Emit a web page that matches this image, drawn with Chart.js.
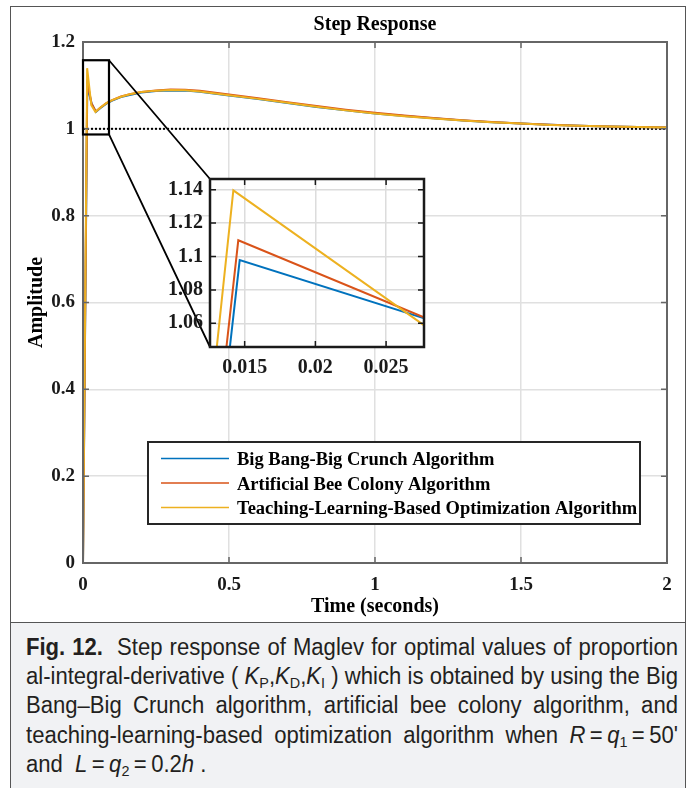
<!DOCTYPE html>
<html>
<head>
<meta charset="utf-8">
<script src="https://cdn.jsdelivr.net/npm/chart.js@4.4.1/dist/chart.umd.min.js"></script>
<style>
    html, body { margin: 0; padding: 0; background: #fff; }
    body { width: 693px; height: 788px; position: relative; overflow: hidden; }
    #frame { position: absolute; left: 10px; top: 6px; width: 676px; height: 617px; border: 1.5px solid #555; border-bottom: none; box-sizing: border-box; }
    #main { position: absolute; left: 0; top: 0; }
    #inset { position: absolute; left: 150px; top: 160px; }
    #caption {
        position: absolute; left: 10px; top: 622px; width: 676px; height: 166px;
        background: #f1f2f4; border: 1.5px solid #555; border-bottom: none; box-sizing: border-box;
        padding: 10px 0 0 15px;
        font-family: 'Liberation Sans', Arial, sans-serif;
        font-size: 23px; line-height: 29.2px; color: #231f20;
    }
    #caption .ln { text-align: justify; text-align-last: justify; transform-origin: 0 0; }
    #caption .ln.last { text-align-last: left; }
    #caption sub { font-size: 15px; line-height: 0; vertical-align: -4px; font-style: normal; }
</style>
</head>
<body>
<div id="frame"></div>
<canvas id="main" width="693" height="622"></canvas>
<canvas id="inset" width="276" height="225"></canvas>
<div id="caption">
    <div class="ln"><b>Fig. 12.</b>&nbsp; Step response of Maglev for optimal values of proportion</div>
    <div class="ln">al-integral-derivative ( <i>K<sub>P</sub></i>,<i>K<sub>D</sub></i>,<i>K<sub>I</sub></i> ) which is obtained by using the Big</div>
    <div class="ln">Bang–Big Crunch algorithm, artificial bee colony algorithm, and</div>
    <div class="ln">teaching-learning-based optimization algorithm when <i>R</i>&thinsp;=&thinsp;<i>q</i><sub>1</sub>&thinsp;=&thinsp;50'</div>
    <div class="ln last">and &nbsp;<i>L</i>&thinsp;=&thinsp;<i>q</i><sub>2</sub>&thinsp;=&thinsp;0.2<i>h</i> .</div>
</div>
<script>
// series
const seriesNames = ['Big Bang-Big Crunch Algorithm', 'Artificial Bee Colony Algorithm', 'Teaching-Learning-Based Optimization Algorithm'];
const seriesColors = ['#0072BD', '#D95319', '#EDB120'];

// first samples (rise, overshoot peak, dip) differ per algorithm
const bbbcEarlyTime = [0, 0.01465, 0.0293, 0.044];
const bbbcEarlyAmp  = [0, 1.0978, 1.0587, 1.039];
const abcEarlyTime  = [0, 0.01455, 0.0291, 0.0437];
const abcEarlyAmp   = [0, 1.1097, 1.0585, 1.040];
const tlboEarlyTime = [0, 0.0142, 0.0284, 0.0426];
const tlboEarlyAmp  = [0, 1.1396, 1.0545, 1.039];

// slow part of the response
const tailTime = [0.06, 0.08, 0.1, 0.13, 0.16, 0.2, 0.25, 0.3, 0.35, 0.4, 0.5, 0.6, 0.7, 0.8, 0.9, 1.0, 1.1, 1.2, 1.3, 1.4, 1.5, 1.6, 1.7, 1.8, 1.9, 2.0];
const bbbcTail = [1.048, 1.058, 1.065, 1.073, 1.078, 1.0835, 1.087, 1.0885, 1.088, 1.0855, 1.077, 1.0685, 1.0595, 1.0505, 1.0425, 1.0355, 1.0295, 1.0242, 1.0192, 1.0152, 1.0121, 1.0092, 1.0071, 1.0052, 1.0041, 1.003];
const abcTail  = [1.049, 1.059, 1.066, 1.0745, 1.0795, 1.085, 1.0885, 1.0905, 1.0898, 1.0875, 1.079, 1.0705, 1.0615, 1.0525, 1.044, 1.0368, 1.0305, 1.025, 1.0198, 1.0156, 1.0124, 1.0094, 1.0072, 1.0053, 1.0042, 1.003];
const tlboTail = [1.049, 1.059, 1.066, 1.074, 1.0795, 1.0848, 1.088, 1.0895, 1.0888, 1.086, 1.0775, 1.069, 1.060, 1.051, 1.0425, 1.0352, 1.0292, 1.024, 1.019, 1.015, 1.012, 1.0091, 1.007, 1.0052, 1.004, 1.003];

const steadyLevel = 1;

// axes
const xTicks = [0, 0.5, 1, 1.5, 2];
const yTicks = [0, 0.2, 0.4, 0.6, 0.8, 1, 1.2];
const insetXTicks = [0.015, 0.02, 0.025];
const insetYTicks = [1.06, 1.08, 1.1, 1.12, 1.14];
const insetTime = [0.01255, 0.02768];
const insetAmp = [1.0458, 1.1464];
const zoomTime = [0, 0.089];
const zoomAmp = [0.987, 1.158];

const serif = '"Liberation Serif", "Times New Roman", serif';
const tickColor = '#1a1a1a';

// caption: squeeze every line to the narrow look of the printed caption
(function fitCaption() {
    const lines = document.querySelectorAll('#caption .ln');
    const target = 651;
    let widest = 0;
    lines.forEach(l => {
        l.style.display = 'inline-block';
        l.style.whiteSpace = 'nowrap';
        widest = Math.max(widest, l.getBoundingClientRect().width);
    });
    const s = target / widest;
    lines.forEach(l => {
        l.style.display = 'block';
        l.style.whiteSpace = 'normal';
        l.style.width = (widest + 1) + 'px';
        l.style.transform = 'scaleX(' + s + ')';
    });
})();

function points(times, amps) {
    return times.map((t, i) => ({ x: t, y: amps[i] }));
}

const seriesData = [
    points(bbbcEarlyTime.concat(tailTime), bbbcEarlyAmp.concat(bbbcTail)),
    points(abcEarlyTime.concat(tailTime), abcEarlyAmp.concat(abcTail)),
    points(tlboEarlyTime.concat(tailTime), tlboEarlyAmp.concat(tlboTail))
];

function makeDatasets(clip) {
    return seriesData.map((d, i) => ({
        label: seriesNames[i],
        data: d,
        borderColor: seriesColors[i],
        borderWidth: 2,
        pointRadius: 0,
        tension: 0,
        fill: false,
        clip: clip,
        order: 3 - i // yellow on top
    }));
}

function fixedTicks(list) {
    return scale => { scale.ticks = list.map(v => ({ value: v })); };
}

// MATLAB style: box + short tick marks pointing inwards
function drawBox(chart, color, width, xList, yList) {
    const { ctx, chartArea: a } = chart;
    const sx = chart.scales.x, sy = chart.scales.y;
    ctx.save();
    ctx.strokeStyle = color;
    ctx.lineWidth = width;
    ctx.strokeRect(a.left, a.top, a.right - a.left, a.bottom - a.top);
    ctx.lineWidth = 1.5;
    ctx.beginPath();
    xList.forEach(v => {
        const px = sx.getPixelForValue(v);
        ctx.moveTo(px, a.bottom); ctx.lineTo(px, a.bottom - 6);
        ctx.moveTo(px, a.top); ctx.lineTo(px, a.top + 6);
    });
    yList.forEach(v => {
        const py = sy.getPixelForValue(v);
        ctx.moveTo(a.left, py); ctx.lineTo(a.left + 6, py);
        ctx.moveTo(a.right, py); ctx.lineTo(a.right - 6, py);
    });
    ctx.stroke();
    ctx.restore();
}

// ---------- inset ----------
const insetCanvas = document.getElementById('inset');
const insetChart = new Chart(insetCanvas, {
    type: 'line',
    data: { datasets: makeDatasets(0) },
    options: {
        responsive: false,
        animation: false,
        events: [],
        layout: { padding: { top: 8, right: 2, left: 0, bottom: 0 } },
        plugins: { legend: { display: false }, tooltip: { enabled: false } },
        scales: {
            x: {
                type: 'linear', min: insetTime[0], max: insetTime[1],
                afterBuildTicks: fixedTicks(insetXTicks),
                afterFit: s => { s.height = 38; },
                grid: { color: '#dcdcdc', lineWidth: 1.5, drawTicks: false },
                border: { display: false },
                ticks: { font: { family: serif, size: 20, weight: 'bold' }, color: tickColor, padding: 9, maxRotation: 0, autoSkip: false, callback: v => String(v) }
            },
            y: {
                type: 'linear', min: insetAmp[0], max: insetAmp[1],
                afterBuildTicks: fixedTicks(insetYTicks),
                afterFit: s => { s.width = 60; },
                grid: { color: '#dcdcdc', lineWidth: 1.5, drawTicks: false },
                border: { display: false },
                ticks: { font: { family: serif, size: 20, weight: 'bold' }, color: tickColor, padding: 7, autoSkip: false, callback: v => String(v) }
            }
        }
    },
    plugins: [{
        id: 'insetFrame',
        beforeDraw(chart) {
            const { ctx, chartArea: a } = chart;
            ctx.save();
            ctx.fillStyle = '#fff';
            ctx.fillRect(a.left, a.top, a.right - a.left, a.bottom - a.top);
            ctx.restore();
        },
        afterDraw(chart) {
            drawBox(chart, '#1a1a1a', 2.5, insetXTicks, insetYTicks);
        }
    }]
});

// ---------- main chart ----------
const mainDatasets = makeDatasets(undefined);
mainDatasets.push({
    label: 'steady state',
    data: [{ x: xTicks[0], y: steadyLevel }, { x: xTicks[xTicks.length - 1], y: steadyLevel }],
    borderColor: '#000',
    borderWidth: 2,
    borderDash: [2, 2],
    pointRadius: 0,
    order: 10
});

const mainChart = new Chart(document.getElementById('main'), {
    type: 'line',
    data: { datasets: mainDatasets },
    options: {
        responsive: false,
        animation: false,
        events: [],
        layout: { padding: { top: 42, right: 26, left: 0, bottom: 0 } },
        plugins: { legend: { display: false }, tooltip: { enabled: false } },
        scales: {
            x: {
                type: 'linear', min: xTicks[0], max: xTicks[xTicks.length - 1],
                afterBuildTicks: fixedTicks(xTicks),
                afterFit: s => { s.height = 59; },
                grid: { color: '#e0e0e0', lineWidth: 1.5, drawTicks: false },
                border: { display: false },
                ticks: { font: { family: serif, size: 19, weight: 'bold' }, color: tickColor, padding: 11, maxRotation: 0, autoSkip: false, callback: v => String(v) }
            },
            y: {
                type: 'linear', min: yTicks[0], max: yTicks[yTicks.length - 1],
                afterBuildTicks: fixedTicks(yTicks),
                afterFit: s => { s.width = 83; },
                grid: { color: '#e0e0e0', lineWidth: 1.5, drawTicks: false },
                border: { display: false },
                ticks: { font: { family: serif, size: 19, weight: 'bold' }, color: tickColor, padding: 8, autoSkip: false, callback: v => String(v) }
            }
        }
    },
    plugins: [{
        id: 'mainFrame',
        afterDraw(chart) {
            const { ctx, chartArea: a } = chart;
            const sx = chart.scales.x, sy = chart.scales.y;
            drawBox(chart, '#666', 2, xTicks, yTicks);

            ctx.save();
            ctx.fillStyle = '#000';
            ctx.textAlign = 'center';
            ctx.textBaseline = 'alphabetic';
            ctx.font = 'bold 20px ' + serif;
            ctx.fillText('Step Response', (a.left + a.right) / 2, 30);
            ctx.fillText('Time (seconds)', (a.left + a.right) / 2, 612);
            ctx.save();
            ctx.translate(42, (a.top + a.bottom) / 2);
            ctx.rotate(-Math.PI / 2);
            ctx.fillText('Amplitude', 0, 0);
            ctx.restore();

            // zoom box and connectors to the inset
            const zx0 = sx.getPixelForValue(zoomTime[0]), zx1 = sx.getPixelForValue(zoomTime[1]);
            const zy0 = sy.getPixelForValue(zoomAmp[1]), zy1 = sy.getPixelForValue(zoomAmp[0]);
            const ia = insetChart.chartArea;
            const ix = insetCanvas.offsetLeft + ia.left;
            const iyTop = insetCanvas.offsetTop + ia.top;
            const iyBot = insetCanvas.offsetTop + ia.bottom;
            ctx.strokeStyle = '#000';
            ctx.lineWidth = 2.2;
            ctx.strokeRect(zx0, zy0, zx1 - zx0, zy1 - zy0);
            ctx.lineWidth = 1.8;
            ctx.beginPath();
            ctx.moveTo(zx1, zy0); ctx.lineTo(ix, iyTop);
            ctx.moveTo(zx1, zy1); ctx.lineTo(ix, iyBot);
            ctx.stroke();

            // legend
            const box = { left: 148, top: 442, right: 640, bottom: 524 };
            ctx.fillStyle = '#fff';
            ctx.fillRect(box.left, box.top, box.right - box.left, box.bottom - box.top);
            ctx.strokeStyle = '#262626';
            ctx.lineWidth = 2;
            ctx.strokeRect(box.left, box.top, box.right - box.left, box.bottom - box.top);
            ctx.font = 'bold 18.5px ' + serif;
            ctx.textAlign = 'left';
            seriesNames.forEach((name, i) => {
                const y = 458.5 + i * 24.5;
                ctx.strokeStyle = seriesColors[i];
                ctx.lineWidth = 1.5;
                ctx.beginPath();
                ctx.moveTo(161, y); ctx.lineTo(229, y);
                ctx.stroke();
                ctx.fillStyle = '#000';
                ctx.fillText(name, 237, y + 6.5);
            });
            ctx.restore();
        }
    }]
});
</script>
</body>
</html>
